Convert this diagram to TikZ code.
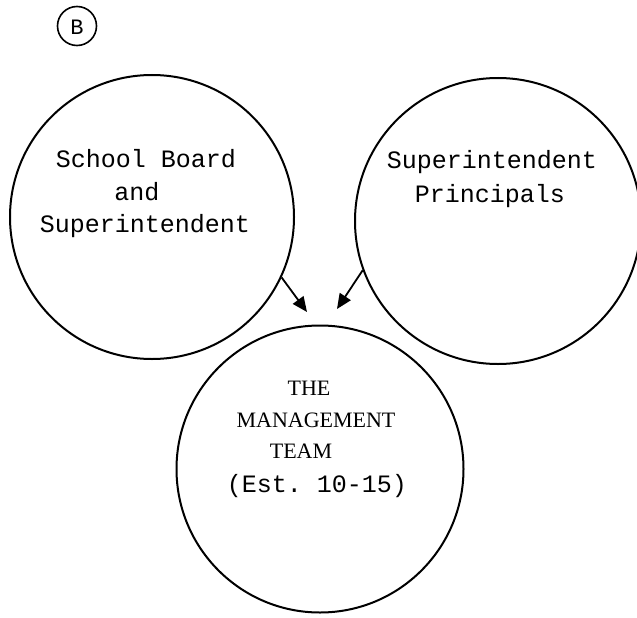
\documentclass[tikz,border=0pt]{standalone}
\usepackage{fontspec}
\setmonofont{Liberation Mono}
\newfontfamily\capsfont{Liberation Serif}
\usetikzlibrary{arrows.meta}
\begin{document}
\begin{tikzpicture}[x=1pt,y=-1pt,
  ring/.style={draw,circle,line width=2pt,inner sep=0pt},
  mono/.style={font=\fontsize{25}{30}\selectfont\ttfamily,anchor=base,inner sep=0pt},
  capstext/.style={font=\fontsize{22}{26}\selectfont\capsfont,anchor=base,inner sep=0pt},
  conn/.style={line width=1.8pt,-{Triangle[length=15pt,width=13pt]}}]
\useasboundingbox (0,0) rectangle (637,618);
% label B
\node[ring,line width=1.6pt,minimum size=39pt] (bcirc) at (77,26) {};
\node[font=\fontsize{22}{24}\selectfont\ttfamily,inner sep=0pt] (blabel) at (77,27) {B};
% circles
\node[ring,minimum size=284pt] (left) at (152,217) {};
\node[ring,minimum size=286pt] (right) at (498,221) {};
\node[ring,minimum size=287pt] (team) at (320,469) {};
% left text
\node[mono] (l1) at (146,167) {School Board};
\node[mono] (l2) at (137,200) {and};
\node[mono] (l3) at (145,232) {Superintendent};
% right text
\node[mono] (r1) at (492,168) {Superintendent};
\node[mono] (r2) at (490,202) {Principals};
% bottom text
\node[capstext] (t1) at (309,395) {THE};
\node[capstext] (t2) at (316,427) {MANAGEMENT};
\node[capstext] (t3) at (301,458) {TEAM};
\node[mono] (t4) at (317,492) {(Est. 10-15)};
% arrows
\coordinate (tipL) at (307,312);
\coordinate (tipR) at (337,309);
\draw[conn] (left.-25.5) -- (tipL);
\draw[conn] (right.-160.5) -- (tipR);
\end{tikzpicture}
\end{document}
